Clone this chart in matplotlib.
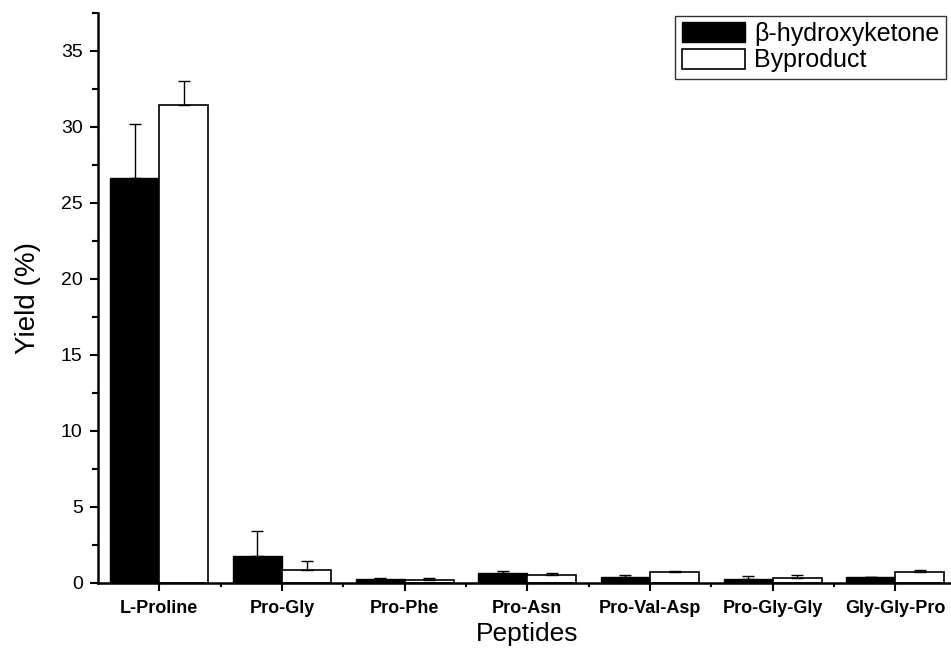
import matplotlib.pyplot as plt
import numpy as np
from matplotlib.ticker import MultipleLocator, FixedLocator

plt.rcParams['font.family'] = ['Liberation Sans', 'DejaVu Sans']

peptides = ["L-Proline", "Pro-Gly", "Pro-Phe", "Pro-Asn", "Pro-Val-Asp", "Pro-Gly-Gly", "Gly-Gly-Pro"]
hydroxy = [26.6, 1.78, 0.24, 0.68, 0.42, 0.28, 0.39]
hydroxy_err = [3.6, 1.64, 0.09, 0.11, 0.08, 0.16, 0.03]
byprod = [31.4, 0.85, 0.18, 0.55, 0.72, 0.35, 0.75]
byprod_err = [1.6, 0.58, 0.13, 0.09, 0.09, 0.15, 0.08]

fig = plt.figure(figsize=(9.51, 6.51), dpi=100)
ax = fig.add_axes([0.103, 0.1045, 0.903, 0.876])

x = np.arange(len(peptides))
w = 0.40
ax.bar(x - w/2, hydroxy, w, color='black', edgecolor='black', linewidth=1,
       label='\u03b2-hydroxyketone')
ax.bar(x + w/2, byprod, w, color='white', edgecolor='black', linewidth=1.2,
       label='Byproduct')
ax.errorbar(x - w/2, hydroxy, yerr=[np.zeros(len(x)), hydroxy_err], fmt='none',
            ecolor='black', elinewidth=1, capsize=4, capthick=1)
ax.errorbar(x + w/2, byprod, yerr=[np.zeros(len(x)), byprod_err], fmt='none',
            ecolor='black', elinewidth=1, capsize=4, capthick=1)

ax.set_xlim(-0.5, 6.5)
ax.set_ylim(0, 37.5)
ax.set_xticks(x)
ax.set_xticklabels(peptides, fontsize=13, fontweight='bold')
ax.xaxis.set_minor_locator(FixedLocator(x[:-1] + 0.5))
ax.yaxis.set_major_locator(MultipleLocator(5))
ax.yaxis.set_minor_locator(MultipleLocator(2.5))
ax.tick_params(axis='y', labelsize=14, pad=5)
ax.tick_params(axis='x', pad=6)
ax.tick_params(which='major', direction='out', length=6, width=1.5)
ax.tick_params(which='minor', direction='out', length=4, width=1.5)
ax.tick_params(axis='x', which='minor', length=3)

for s in ['top', 'right']:
    ax.spines[s].set_visible(False)
for s in ['left', 'bottom']:
    ax.spines[s].set_linewidth(1.8)

ax.set_ylabel("Yield (%)", fontsize=20, labelpad=14)
ax.set_xlabel("Peptides", fontsize=19, labelpad=4)

leg = ax.legend(loc='upper right', bbox_to_anchor=(0.987, 0.995), fontsize=18,
                frameon=True, fancybox=False, edgecolor='black', handlelength=2.55,
                handleheight=0.85, borderpad=0.25, labelspacing=0.1,
                handletextpad=0.35, borderaxespad=0)
leg.get_frame().set_linewidth(1)

fig.savefig("out.png", dpi=100)
